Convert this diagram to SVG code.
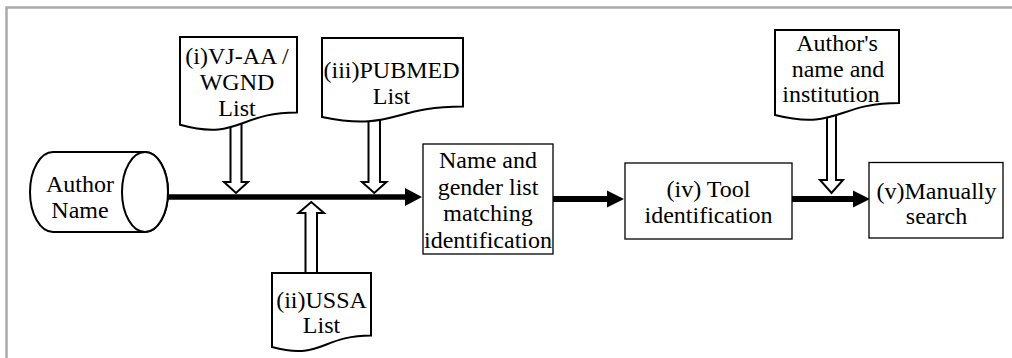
<svg xmlns="http://www.w3.org/2000/svg" width="1012" height="358" viewBox="0 0 1012 358">
<style>
text{font-family:'Liberation Serif','Tinos','DejaVu Serif',serif;font-size:24px;fill:#000;text-anchor:middle}
.box{fill:#fff;stroke:#000;stroke-width:1.3}
.doc{fill:#fff;stroke:#000;stroke-width:2}
.hollow{fill:#fff;stroke:#000;stroke-width:2;stroke-linejoin:miter}
.thick{stroke:#000;fill:none}
.head{fill:#000}
</style>
<rect x="0" y="0" width="1012" height="358" fill="#fff"/>
<rect x="6.5" y="7.5" width="1030" height="400" fill="none" stroke="#aaa" stroke-width="2.5"/>

<g id="connectors">
  <line class="thick" x1="168" y1="197" x2="406" y2="197" stroke-width="5.5"/>
  <polygon class="head" points="405,188 422,197 405,206"/>
  <line class="thick" x1="553" y1="199" x2="608" y2="199" stroke-width="6"/>
  <polygon class="head" points="607,190.5 624,199 607,207.5"/>
  <line class="thick" x1="792" y1="199" x2="854" y2="199" stroke-width="6"/>
  <polygon class="head" points="853,190.5 870,199 853,207.5"/>
  <polygon class="hollow" points="230.5,118 241.5,118 241.5,182 248,182 236,193 224,182 230.5,182"/>
  <polygon class="hollow" points="368.5,110 380,110 380,182 386.5,182 374.25,193 362,182 368.5,182"/>
  <polygon class="hollow" points="305.5,280 317,280 317,213 324,213 311.25,202 298.5,213 305.5,213"/>
  <polygon class="hollow" points="827,110 836,110 836,180 843,180 831.5,193 820,180 827,180"/>
</g>

<g font-family="Liberation Serif, Tinos, DejaVu Serif, serif" font-size="24">
<g id="author-name">
  <path class="doc" d="M53,152 L145,152 A23,40 0 0 1 145,232 L53,232 A23,40 0 0 1 53,152 Z"/>
  <ellipse class="doc" cx="145" cy="192" rx="23" ry="40"/>
  <text x="80" y="192">Author</text>
  <text x="80" y="218">Name</text>
</g>

<g id="doc-vjaa">
  <path class="doc" d="M180,37 H297 V112.4 C238.5,112.4 238.5,141 180,124.8 Z"/>
  <text x="237" y="64">(i)VJ-AA /</text>
  <text x="237" y="90">WGND</text>
  <text x="237" y="116">List</text>
</g>

<g id="doc-pubmed">
  <path class="doc" d="M322,38 H463 V106.5 C392.5,106.5 392.5,131.6 322,117 Z"/>
  <text x="391.5" y="78">(iii)PUBMED</text>
  <text x="391.5" y="104">List</text>
</g>

<g id="doc-ussa">
  <path class="doc" d="M272,273 H371 V335.5 C321.5,335.5 321.5,360.7 272,347 Z"/>
  <text x="321.5" y="308">(ii)USSA</text>
  <text x="321.5" y="333">List</text>
</g>

<g id="doc-author-inst">
  <path class="doc" d="M775,30 H899 V103 C837,103 837,130.7 775,115 Z"/>
  <text x="837" y="51">Author's</text>
  <text x="838" y="77">name and</text>
  <text x="831" y="102">institution</text>
</g>

<g id="box-matching">
  <rect class="box" x="423" y="144" width="130" height="110"/>
  <text x="488" y="168">Name and</text>
  <text x="488" y="194.5">gender list</text>
  <text x="488" y="221">matching</text>
  <text x="488" y="247.5">identification</text>
</g>

<g id="box-tool">
  <rect class="box" x="625" y="163" width="167" height="76"/>
  <text x="708.5" y="197">(iv) Tool</text>
  <text x="708.5" y="223">identification</text>
</g>

<g id="box-manual">
  <rect class="box" x="869" y="162.5" width="134" height="75.5"/>
  <text x="936.5" y="199">(v)Manually</text>
  <text x="936.5" y="224">search</text>
</g>
</g>
</svg>
